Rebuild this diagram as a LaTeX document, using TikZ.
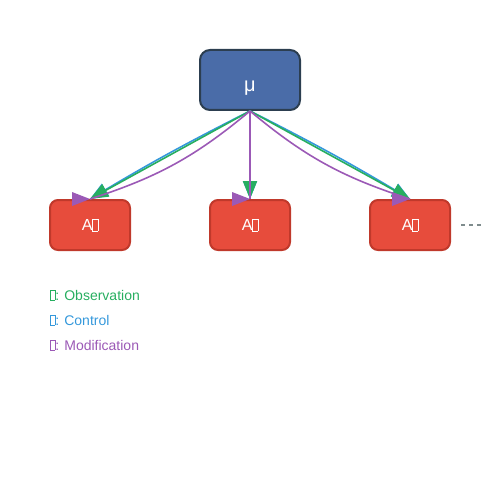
\documentclass[tikz,border=0pt]{standalone}
\usepackage{fontspec}
\setmainfont{Liberation Sans}
\usetikzlibrary{calc,arrows.meta}
\definecolor{agentc}{HTML}{E74C3C}
\definecolor{agentb}{HTML}{C0392B}
\definecolor{muc}{HTML}{4A6CA8}
\definecolor{mub}{HTML}{2C3E50}
\definecolor{obsc}{HTML}{27AE60}
\definecolor{ctrlc}{HTML}{3498DB}
\definecolor{modc}{HTML}{9B59B6}
\definecolor{dotc}{HTML}{7F8C8D}
\newcommand{\nochar}{{\setlength{\fboxsep}{0pt}\setlength{\fboxrule}{0.3pt}\fbox{\rule{0pt}{0.72em}\hspace{0.32em}}}}
\tikzset{
  >={Triangle[length=18pt,width=14pt]},
  agent/.style={draw=agentb, fill=agentc, line width=2pt, rounded corners=8pt,
    minimum width=80pt, minimum height=50pt, text=white, font=\fontsize{16}{18}\selectfont},
  meta/.style={draw=mub, fill=muc, line width=2pt, rounded corners=10pt,
    minimum width=100pt, minimum height=60pt, text=white, font=\fontsize{20}{22}\selectfont},
  link/.style={line width=1.6pt},
  legend/.style={anchor=west, inner sep=0pt, font=\fontsize{14}{16}\selectfont}
}
\begin{document}
\begin{tikzpicture}[x=1pt, y=-1pt]
  \useasboundingbox (0,0) rectangle (500,500);
  \node[meta] (mu) at (250,80) {\raisebox{-12pt}[0pt][0pt]{μ}};
  \node[agent] (a1) at (90,225) {A\nochar};
  \node[agent] (a2) at (250,225) {A\nochar};
  \node[agent] (a3) at (410,225) {A\nochar};
  % control, observation, modification
  \draw[link, ctrlc, ->] (mu.south) to[bend right=2] (a1.north);
  \draw[link, ctrlc, ->] (mu.south) -- (a2.north);
  \draw[link, ctrlc, ->] (mu.south) to[bend left=2] (a3.north);
  \draw[link, obsc, ->] (mu.south) -- (a1.north);
  \draw[link, obsc, ->] (mu.south) -- (a2.north);
  \draw[link, obsc, ->] (mu.south) -- (a3.north);
  \draw[link, modc] (mu.south) to[bend left=11] (a1.north);
  \draw[link, modc] (mu.south) -- (a2.north);
  \draw[link, modc] (mu.south) to[bend right=11] (a3.north);
  \foreach \a in {a1,a2,a3}
    \fill[modc] (\a.north) -- ++(-18,-7) -- ++(0,14) -- cycle;
  \coordinate (more) at ($(a3.east)+(10,0)$);
  \draw[dotc, line width=2pt, dash pattern=on 4pt off 4pt] (more) -- ++(20,0);
  \node[legend, text=obsc] (lo) at (50,295) {\nochar: Observation};
  \node[legend, text=ctrlc] (lc) at (50,320) {\nochar: Control};
  \node[legend, text=modc] (lm) at (50,345) {\nochar: Modification};
\end{tikzpicture}
\end{document}
